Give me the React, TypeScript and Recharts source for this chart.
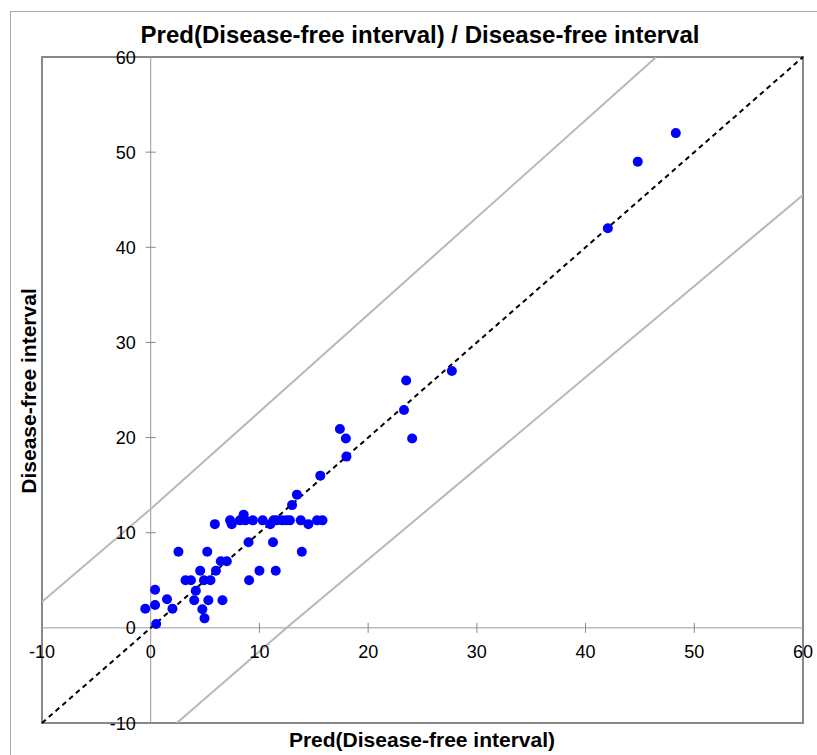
import React from "react";
import { ScatterChart, Scatter, XAxis, YAxis, ReferenceLine, ReferenceArea } from "recharts";

// observed vs predicted disease-free interval
const predicted = [
  -0.5, 0.4, 0.4, 0.5, 1.5, 2, 2.55, 3.2, 3.7, 4.15, 4, 4.55, 5.2, 4.9, 5.5, 5.3, 4.75, 4.95, 6, 5.9, 6.45, 7, 6.6,
  7.3, 7.45, 8.2, 8.55, 8.7, 9.4, 10.3, 11, 11.3, 11.6, 12.1, 12.5, 12.8, 13.8, 14.5, 15.3, 15.8,
  9, 11.25, 13, 13.45, 13.9, 10, 11.5, 9.05,
  15.6, 18, 17.4, 17.95, 24.05, 23.3, 23.5, 27.7, 42.05, 44.8, 48.3,
];
const observed = [
  2, 4, 2.4, 0.4, 3, 2, 8, 5, 5, 3.9, 2.9, 6, 8, 5, 5, 2.9, 1.95, 1, 6, 10.9, 7, 7, 2.9,
  11.3, 10.9, 11.3, 11.9, 11.3, 11.3, 11.3, 10.9, 11.3, 11.3, 11.3, 11.3, 11.3, 11.3, 10.9, 11.3, 11.3,
  9, 9, 12.9, 14, 8, 6, 6, 5,
  16, 18, 20.9, 19.9, 19.9, 22.9, 26, 27, 42, 49, 52,
];

// confidence bounds
const upperX = [-10, 0, 46.5];
const upperY = [2.75, 12.5, 60];
const lowerX = [2.4, 12.5, 60];
const lowerY = [-10, 0, 45.5];

const axisTicks = [-10, 0, 10, 20, 30, 40, 50, 60];

const W = 817;
const H = 755;
const PLOT_LEFT = 42;
const PLOT_TOP = 57;
const PLOT_RIGHT = 803;
const PLOT_BOTTOM = 723;
const MIN = -10;
const MAX = 60;

const zeroX = PLOT_LEFT + ((0 - MIN) / (MAX - MIN)) * (PLOT_RIGHT - PLOT_LEFT);
const zeroY = PLOT_TOP + ((MAX - 0) / (MAX - MIN)) * (PLOT_BOTTOM - PLOT_TOP);

const points = predicted.map((x, i) => ({ x, y: observed[i] }));
const upper = upperX.map((x, i) => ({ x, y: upperY[i] }));
const lower = lowerX.map((x, i) => ({ x, y: lowerY[i] }));

const FONT = "'Liberation Sans', Arial, sans-serif";

const XTick = (props: any) => {
  const { x, payload } = props;
  const v = payload.value;
  const inner = v > MIN && v < MAX && v !== 0;
  return (
    <g>
      {inner && <line x1={x} x2={x} y1={zeroY - 5} y2={zeroY + 5} stroke="#888" />}
      <text x={x} y={zeroY + 30} textAnchor="middle" fontSize={18} fontFamily={FONT} fill="#000">
        {v}
      </text>
    </g>
  );
};

const YTick = (props: any) => {
  const { y, payload } = props;
  const v = payload.value;
  const inner = v > MIN && v < MAX && v !== 0;
  return (
    <g>
      {inner && <line x1={zeroX - 5} x2={zeroX + 5} y1={y} y2={y} stroke="#888" />}
      <text x={zeroX - 15} y={y + 6.5} textAnchor="end" fontSize={18} fontFamily={FONT} fill="#000">
        {v}
      </text>
    </g>
  );
};

const Dot = (props: any) => <circle cx={props.cx} cy={props.cy} r={5} fill="#0000ff" />;
const NoDot = () => <g />;

export default function App() {
  return (
    <div style={{ position: "absolute", left: 0, top: 0, width: W, height: H, background: "#fff", fontFamily: FONT }}>
      <div
        style={{
          position: "absolute",
          left: 10,
          top: 11,
          width: W,
          height: H,
          borderLeft: "1px solid #aaa",
          borderTop: "1px solid #aaa",
        }}
      />
      <div
        style={{
          position: "absolute",
          left: 0,
          width: 840,
          top: 21,
          textAlign: "center",
          fontSize: 24,
          fontWeight: "bold",
          lineHeight: "28px",
        }}
      >
        Pred(Disease-free interval) / Disease-free interval
      </div>
      <div
        style={{
          position: "absolute",
          left: 0,
          width: 844,
          top: 727,
          textAlign: "center",
          fontSize: 21,
          fontWeight: "bold",
          lineHeight: "25px",
        }}
      >
        Pred(Disease-free interval)
      </div>
      <div
        style={{
          position: "absolute",
          left: 28,
          top: 391,
          transform: "translate(-50%, -50%) rotate(-90deg)",
          whiteSpace: "nowrap",
          fontSize: 21,
          fontWeight: "bold",
          lineHeight: "25px",
        }}
      >
        Disease-free interval
      </div>
      <ScatterChart
        width={W}
        height={H}
        margin={{ top: PLOT_TOP, left: 0, right: W - PLOT_RIGHT, bottom: 0 }}
        style={{ position: "absolute", left: 0, top: 0 }}
      >
        <XAxis
          type="number"
          dataKey="x"
          domain={[MIN, MAX]}
          ticks={axisTicks}
          interval={0}
          axisLine={false}
          tickLine={false}
          height={H - PLOT_BOTTOM}
          tick={<XTick />}
          allowDataOverflow
        />
        <YAxis
          type="number"
          dataKey="y"
          domain={[MIN, MAX]}
          ticks={axisTicks}
          interval={0}
          axisLine={false}
          tickLine={false}
          width={PLOT_LEFT}
          tick={<YTick />}
          allowDataOverflow
        />
        <ReferenceArea x1={MIN} x2={MAX} y1={MIN} y2={MAX} fill="none" stroke="#888" strokeWidth={2} fillOpacity={0} />
        <ReferenceLine x={0} stroke="#999" strokeWidth={1} />
        <ReferenceLine y={0} stroke="#999" strokeWidth={1} />
        <Scatter data={upper} line={{ stroke: "#b8b8b8", strokeWidth: 2 }} shape={<NoDot />} isAnimationActive={false} />
        <Scatter data={lower} line={{ stroke: "#b8b8b8", strokeWidth: 2 }} shape={<NoDot />} isAnimationActive={false} />
        <ReferenceLine
          segment={[
            { x: MIN, y: MIN },
            { x: MAX, y: MAX },
          ]}
          stroke="#000"
          strokeWidth={2}
          strokeDasharray="5 4"
        />
        <Scatter data={points} shape={<Dot />} isAnimationActive={false} />
      </ScatterChart>
    </div>
  );
}
